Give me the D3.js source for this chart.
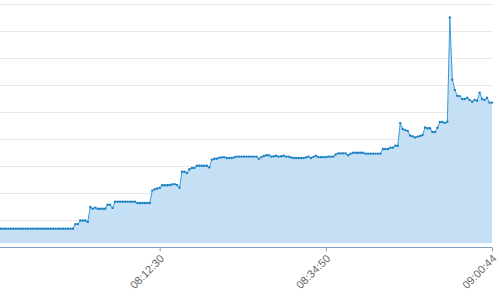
<html lang="en"><head>
<meta http-equiv="Content-Type" content="text/html; charset=UTF-8">
<title>Area chart</title>
<script type="text/javascript" src="https://cdn.jsdelivr.net/npm/d3@7"></script>
<style type="text/css">
body { margin: 0; background: #fff; }
svg { display: block; }
</style>
</head>
<body>

<script type="text/javascript">

var width = 502;
var height = 297;

// one value per sample (grid step = 10)
var values = [
  6.9, 6.9, 6.9, 6.9, 6.9, 6.9, 6.9, 6.9, 6.9, 6.9,
  6.9, 6.9, 6.9, 6.9, 6.9, 6.9, 6.9, 6.9, 6.9, 6.9,
  6.9, 6.9, 6.9, 6.9, 6.9, 6.9, 6.9, 6.9, 6.9, 6.9,
  6.9, 8.6, 8.6, 9.9, 9.9, 9.9, 9.4, 14.9, 14.3, 14.7,
  14.3, 14.3, 14.3, 14.3, 15.8, 15.8, 14.6, 16.9, 16.9, 16.9,
  16.9, 16.9, 16.9, 16.9, 16.9, 16.9, 16.4, 16.4, 16.4, 16.4,
  16.4, 16.4, 21.0, 21.5, 21.8, 22.0, 23.0, 23.0, 23.0, 23.1,
  23.3, 23.4, 23.1, 22.1, 28.0, 28.0, 27.5, 28.9, 29.4, 29.4,
  30.2, 30.2, 30.2, 30.2, 30.2, 29.6, 32.4, 32.8, 32.8, 33.2,
  33.3, 33.4, 33.1, 33.1, 33.1, 33.3, 33.6, 33.6, 33.6, 33.6,
  33.6, 33.6, 33.6, 33.6, 33.6, 32.8, 33.4, 33.8, 34.1, 34.1,
  33.6, 33.7, 33.9, 33.6, 33.7, 33.9, 33.6, 33.6, 33.3, 33.1,
  33.1, 33.1, 33.1, 33.1, 33.3, 33.6, 33.1, 33.5, 33.9, 33.4,
  33.4, 33.4, 33.4, 33.6, 33.6, 33.6, 34.4, 34.8, 34.8, 34.8,
  34.8, 34.1, 34.7, 35.0, 35.0, 35.0, 35.0, 35.0, 34.7, 34.7,
  34.7, 34.7, 34.7, 34.7, 34.7, 36.4, 36.4, 36.4, 36.9, 36.9,
  37.6, 37.6, 46.0, 43.8, 43.4, 43.1, 41.4, 41.1, 40.7, 41.0,
  41.2, 41.6, 44.4, 44.1, 44.1, 42.7, 42.7, 44.3, 46.4, 46.4,
  46.1, 46.5, 85.1, 62.1, 58.3, 56.1, 56.0, 54.9, 54.9, 55.4,
  54.6, 53.9, 54.6, 54.3, 57.3, 54.9, 54.6, 55.4, 53.6, 53.6
];

var tickIndex = [65, 132, 199];
var tickLabels = ["08:12:30", "08:34:50", "09:00:44"];
var gridValues = [10, 20, 30, 40, 50, 60, 70, 80, 90];

var data = values.map(function(v, i){ return {i: i, v: v}; });

var x = d3.scaleLinear().domain([0, values.length - 1]).range([-1.5, 492]);
var y = d3.scaleLinear().domain([0, 90]).range([247.3, 4.3]);

var svg = d3.select("body")
            .append("svg")
            .attr("width", width)
            .attr("height", height);

// horizontal grid
svg.append("g")
  .selectAll("line")
  .data(gridValues).enter()
  .append("line")
  .attr("x1", 0)
  .attr("x2", x(values.length - 1))
  .attr("y1", function(d){ return Math.round(y(d)) + 0.5; })
  .attr("y2", function(d){ return Math.round(y(d)) + 0.5; })
  .attr("stroke", "#e8e8e8")
  .attr("stroke-width", 1);

var area = d3.area()
  .x(function(d){ return x(d.i); })
  .y0(y(1.5))
  .y1(function(d){ return y(d.v); });

var line = d3.line()
  .x(function(d){ return x(d.i); })
  .y(function(d){ return y(d.v); });

svg.append("path")
  .datum(data)
  .attr("d", area)
  .attr("fill", "#c5e0f4");

svg.append("path")
  .datum(data)
  .attr("d", line)
  .attr("fill", "none")
  .attr("stroke", "#3d9ad6")
  .attr("stroke-width", 1);

svg.append("g")
  .selectAll("circle")
  .data(data).enter()
  .append("circle")
  .attr("cx", function(d){ return x(d.i); })
  .attr("cy", function(d){ return y(d.v); })
  .attr("r", 1.2)
  .attr("fill", "#1a80c4");

// x axis
var xAxis = d3.axisBottom(x)
  .tickValues(tickIndex)
  .tickFormat(function(d){ return tickLabels[tickIndex.indexOf(d)]; })
  .tickSizeInner(4)
  .tickSizeOuter(0);

var axisG = svg.append("g")
  .attr("transform", "translate(0," + (Math.round(y(0)) + 0.5) + ")")
  .call(xAxis);

axisG.select(".domain")
  .attr("stroke", "#7f9ebc")
  .attr("d", "M0,0H" + x(values.length - 1));

axisG.selectAll(".tick line")
  .attr("stroke", "#7f9ebc");

axisG.selectAll(".tick text")
  .attr("fill", "#666")
  .attr("font-family", "'Liberation Sans', Arial, sans-serif")
  .attr("font-size", 11)
  .attr("text-anchor", "end")
  .attr("x", 0)
  .attr("y", 0)
  .attr("dy", "0.35em")
  .attr("transform", "translate(2,9) rotate(-45)");

</script>
</body></html>
